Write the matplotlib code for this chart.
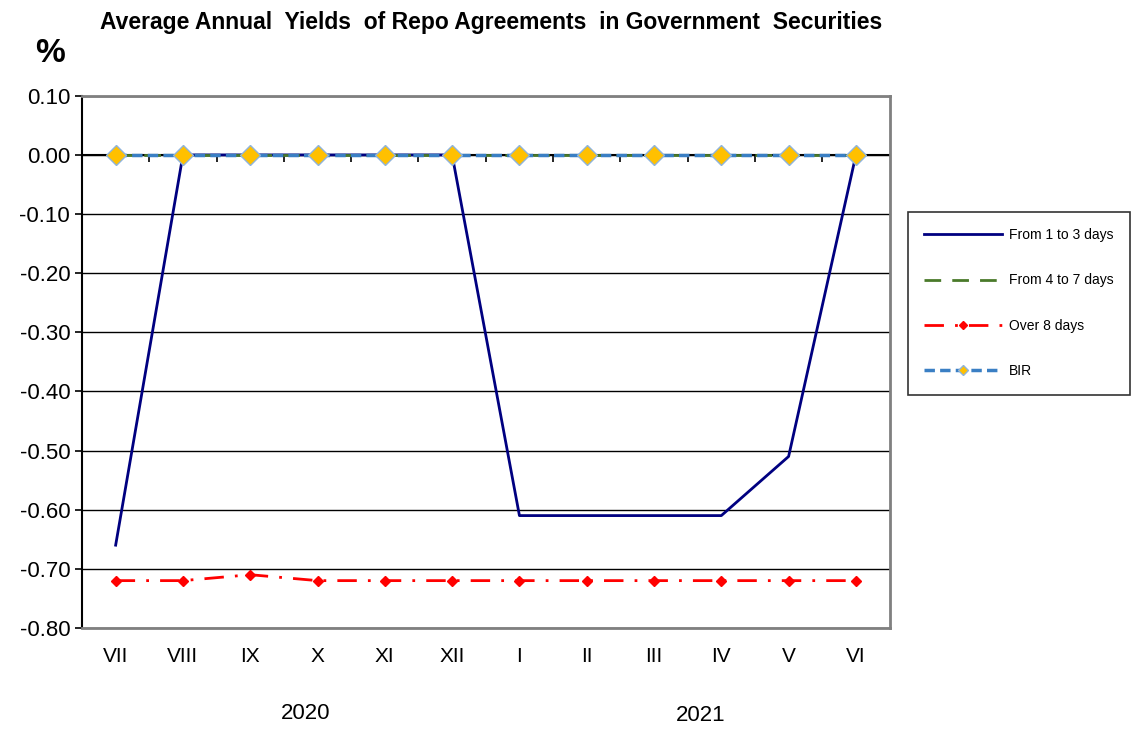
import numpy as np
import matplotlib
matplotlib.use('Agg')
import matplotlib.pyplot as plt

plt.rcParams['font.family'] = ['Liberation Sans', 'DejaVu Sans']

months = ['VII', 'VIII', 'IX', 'X', 'XI', 'XII', 'I', 'II', 'III', 'IV', 'V', 'VI']
days_1_3 = [-0.66, 0.00, 0.00, 0.00, 0.00, 0.00, -0.61, -0.61, -0.61, -0.61, -0.51, 0.00]
days_4_7 = [0.00] * 12
over_8 = [-0.72, -0.72, -0.71, -0.72, -0.72, -0.72, -0.72, -0.72, -0.72, -0.72, -0.72, -0.72]
bir = [0.00] * 12
yticks = [0.10, 0.00, -0.10, -0.20, -0.30, -0.40, -0.50, -0.60, -0.70, -0.80]

x = np.arange(len(months))

fig = plt.figure(figsize=(11.39, 7.37), dpi=100)
ax = fig.add_axes([0.072, 0.148, 0.709, 0.722])

ax.plot(x, days_1_3, color='#000080', lw=2, label='From 1 to 3 days', zorder=3)
ax.plot(x, days_4_7, color='#4a7a2a', lw=2, ls=(0, (6, 4)), label='From 4 to 7 days', zorder=4)
ax.plot(x, over_8, color='#ff0000', lw=2, ls=(0, (7, 4, 1, 4)), marker='D', ms=5,
        label='Over 8 days', zorder=3)
ax.plot(x, bir, color='#3a7fc4', lw=2.5, ls=(0, (3, 1.5)), marker='D', ms=10,
        mfc='#ffc000', mec='#8fb4dc', mew=1, label='BIR', zorder=5)

ax.set_xlim(-0.5, len(months) - 0.5)
ax.set_ylim(-0.8, 0.1)
ax.set_yticks(yticks)
ax.set_yticklabels([f'{v:.2f}' for v in yticks], fontsize=16)
ax.set_xticks(x)
ax.set_xticklabels(months, fontsize=15)
ax.tick_params(axis='x', length=0, pad=14)
ax.tick_params(axis='y', length=5, width=1.2, direction='out')

ax.grid(axis='y', color='black', lw=1)
ax.set_axisbelow(True)
ax.axhline(0, color='black', lw=1.5, zorder=2)
bounds = np.arange(len(months) + 1) - 0.5
ax.vlines(bounds[1:-1], -0.012, 0, color='black', lw=1.2, zorder=2)

for s in ['top', 'right', 'bottom']:
    ax.spines[s].set_color('#808080')
    ax.spines[s].set_linewidth(2)
ax.spines['left'].set_color('black')
ax.spines['left'].set_linewidth(1.5)

fig.text(0.268, 0.025, '2020', fontsize=16, ha='center')
fig.text(0.615, 0.022, '2021', fontsize=16, ha='center')
fig.text(0.431, 0.970, 'Average Annual  Yields  of Repo Agreements  in Government  Securities',
         fontsize=16.5, fontweight='bold', ha='center', va='center')
fig.text(0.044, 0.927, '%', fontsize=24, fontweight='bold', ha='center', va='center')

leg = fig.legend(loc='upper left', bbox_to_anchor=(0.797, 0.713), fontsize=10,
                 handlelength=5.6, labelspacing=2.25, borderpad=1.2, numpoints=1,
                 frameon=True, fancybox=False, edgecolor='black', handletextpad=0.5,
                 borderaxespad=0)
leg.get_frame().set_linewidth(1.2)
leg.legend_handles[2].set_markersize(4)
leg.legend_handles[3].set_markersize(5)

fig.savefig('out.png', dpi=100)
